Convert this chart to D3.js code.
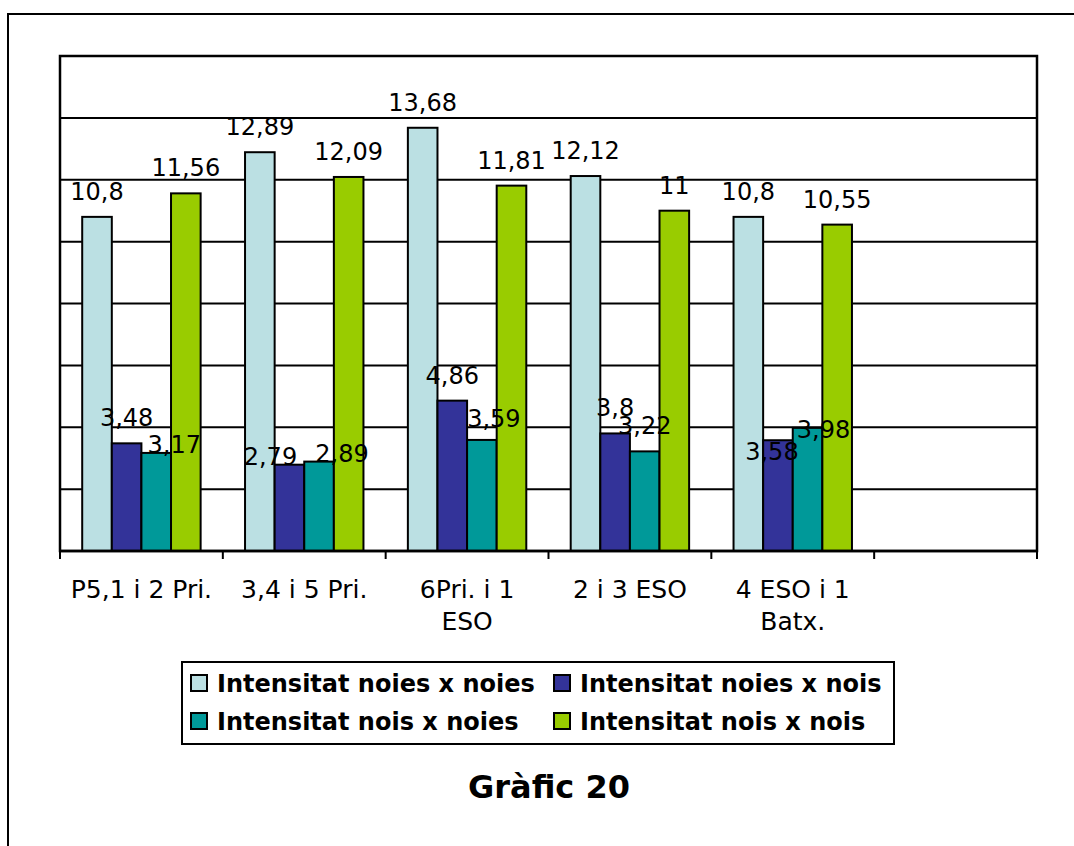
<!DOCTYPE html>
<html>
<head>
<meta charset="utf-8">
<script src="https://cdn.jsdelivr.net/npm/d3@7/dist/d3.min.js"></script>
<style>
  html, body { margin: 0; padding: 0; background: #fff; }
  svg { display: block; font-family: "DejaVu Sans", Verdana, sans-serif; }
</style>
</head>
<body>
<svg id="chart" width="1074" height="846"></svg>
<script>
// Age groups (the last slot on the axis is left empty)
const categories = ["P5,1 i 2 Pri.", "3,4 i 5 Pri.", "6Pri. i 1 ESO", "2 i 3 ESO", "4 ESO i 1 Batx.", ""];
const seriesNames = [
  "Intensitat noies x noies",
  "Intensitat noies x nois",
  "Intensitat nois x noies",
  "Intensitat nois x nois"
];
const noiesXnoies = [10.8, 12.89, 13.68, 12.12, 10.8];
const noiesXnois  = [3.48, 2.79, 4.86, 3.8, 3.58];
const noisXnoies  = [3.17, 2.89, 3.59, 3.22, 3.98];
const noisXnois   = [11.56, 12.09, 11.81, 11, 10.55];
const yTicks = [0, 2, 4, 6, 8, 10, 12, 14, 16];
const colors = ["#BBE0E3", "#333399", "#009999", "#99CC00"];
const title = "Gràfic 20";

const seriesValues = [noiesXnoies, noiesXnois, noisXnoies, noisXnois];

// Label offsets for the short bars whose values would otherwise collide
const labelShift = {
  "2-0": [18, 17],
  "1-1": [-19, 17],
  "2-1": [23, 17],
  "2-2": [12, 4],
  "1-4": [-6, 37],
  "2-4": [16, 27]
};

const svg = d3.select("#chart");
const plot = { left: 60, right: 1037, top: 56, bottom: 551 };

// outer chart frame
svg.append("rect")
  .attr("x", 8).attr("y", 14)
  .attr("width", 1200).attr("height", 1000)
  .attr("fill", "#fff").attr("stroke", "#000").attr("stroke-width", 2);

const x = d3.scaleBand().domain(d3.range(categories.length))
  .range([plot.left, plot.right]).paddingInner(0).paddingOuter(0);
const xs = d3.scaleBand().domain(d3.range(seriesNames.length))
  .range([0, x.bandwidth()]).paddingInner(0).paddingOuter(0.75);
const y = d3.scaleLinear().domain([0, 16]).range([plot.bottom, plot.top]);

// horizontal gridlines
svg.append("g").selectAll("line").data(yTicks.slice(1)).join("line")
  .attr("x1", plot.left).attr("x2", plot.right)
  .attr("y1", d => y(d)).attr("y2", d => y(d))
  .attr("stroke", "#000").attr("stroke-width", 2);

// bars
const groups = svg.append("g").selectAll("g").data(seriesValues).join("g")
  .attr("fill", (d, i) => colors[i]);
groups.each(function(vals, si) {
  d3.select(this).selectAll("rect").data(vals).join("rect")
    .attr("x", (v, ci) => x(ci) + xs(si))
    .attr("width", xs.bandwidth())
    .attr("y", v => y(v))
    .attr("height", v => y(0) - y(v))
    .attr("stroke", "#000").attr("stroke-width", 2);
});

// plot frame
svg.append("rect")
  .attr("x", plot.left).attr("y", plot.top)
  .attr("width", plot.right - plot.left).attr("height", plot.bottom - plot.top)
  .attr("fill", "none").attr("stroke", "#000").attr("stroke-width", 2.5);

// category axis
const xAxis = svg.append("g").attr("transform", `translate(0,${plot.bottom})`);
const tickPos = d3.range(categories.length + 1).map(i => plot.left + i * x.step());
xAxis.selectAll("line").data(tickPos).join("line")
  .attr("x1", d => d).attr("x2", d => d).attr("y1", 0).attr("y2", 8)
  .attr("stroke", "#000").attr("stroke-width", 2);
xAxis.append("line").attr("x1", plot.left).attr("x2", plot.right)
  .attr("stroke", "#000").attr("stroke-width", 2.5);

// wrap labels to the width of one category slot
const axisFont = 25;
const measure = svg.append("text").attr("font-size", axisFont).attr("visibility", "hidden");
function wrap(label, maxW) {
  const words = label.split(" ");
  const lines = [];
  let cur = "";
  words.forEach(w => {
    const test = cur ? cur + " " + w : w;
    measure.text(test);
    if (measure.node().getComputedTextLength() > maxW && cur) {
      lines.push(cur); cur = w;
    } else cur = test;
  });
  if (cur) lines.push(cur);
  return lines;
}
categories.forEach((c, i) => {
  if (!c) return;
  const lines = wrap(c, 150);
  const t = xAxis.append("text")
    .attr("text-anchor", "middle").attr("font-size", axisFont).attr("fill", "#000");
  lines.forEach((ln, li) => {
    t.append("tspan").attr("x", x(i) + x.bandwidth() / 2)
      .attr("y", 47 + li * 32).text(ln);
  });
});
measure.remove();

// value labels
const fmt = v => String(v).replace(".", ",");
seriesValues.forEach((vals, si) => {
  vals.forEach((v, ci) => {
    const s = labelShift[si + "-" + ci] || [0, 0];
    svg.append("text")
      .attr("x", x(ci) + xs(si) + xs.bandwidth() / 2 + s[0])
      .attr("y", y(v) - 17 + s[1])
      .attr("text-anchor", "middle").attr("font-size", 24).attr("fill", "#000")
      .text(fmt(v));
  });
});

// legend
const legend = svg.append("g");
legend.append("rect").attr("x", 182).attr("y", 662).attr("width", 712).attr("height", 82)
  .attr("fill", "#fff").attr("stroke", "#000").attr("stroke-width", 2);
const legendCols = [191, 554];
const legendRows = [675, 713];
seriesNames.forEach((name, i) => {
  const lx = legendCols[i % 2], ly = legendRows[Math.floor(i / 2)];
  legend.append("rect").attr("x", lx).attr("y", ly).attr("width", 16).attr("height", 16)
    .attr("fill", colors[i]).attr("stroke", "#000").attr("stroke-width", 2);
  legend.append("text").attr("x", lx + 26).attr("y", ly + 17)
    .attr("font-size", 24).attr("font-weight", "bold").attr("fill", "#000")
    .text(name);
});

// chart title
svg.append("text").attr("x", 549).attr("y", 798)
  .attr("text-anchor", "middle").attr("font-size", 32).attr("font-weight", "bold")
  .attr("fill", "#000").text(title);
</script>
</body>
</html>
